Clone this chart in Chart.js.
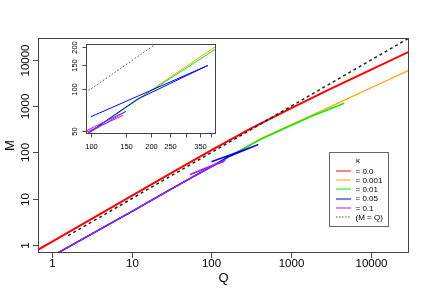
<!DOCTYPE html>
<html>
<head>
<meta charset="utf-8">
<script src="https://cdn.jsdelivr.net/npm/chart.js@4.4.1/dist/chart.umd.min.js"></script>
<style>
  html, body { margin: 0; padding: 0; background: #fff; }
  #wrap { position: relative; width: 432px; height: 300px; }
  #main { position: absolute; left: 0; top: 0; }
  #inset { position: absolute; left: 60px; top: 38px; }
</style>
</head>
<body>
<div id="wrap">
  <canvas id="main" width="432" height="300"></canvas>
  <canvas id="inset" width="165" height="120"></canvas>
</div>
<script>
// shared early part of every kappa > 0 run
const trunkQ = [1, 10, 30, 60, 95]
const trunkM = [0.57, 5.25, 15.5, 30.4, 47]

// kappa = 0
const redQ = [0.5, 1, 10, 30, 100, 300, 1000, 3000, 10000, 30000, 40000]
const redM = [0.59, 1.17, 11.6, 34.4, 112, 318, 912, 2300, 6170, 15100, 19000]

// tails after the trunk
const orangeQ = [200, 420, 720, 2000, 5000, 10000, 30000, 40000]
const orangeM = [98, 202, 310, 692, 1440, 2500, 6030, 7600]
const greenQ = [200, 420, 720, 2000, 4600]
const greenM = [97, 194, 298, 655, 1160]
const blueQ = [170, 385, 100]
const blueM = [84, 148, 63]
const purpleQ = [150, 54, 145]
const purpleM = [69, 33.5, 64.5]

// M = Q reference
const refQ = [1.6, 40000]

const kappas = ["0.0", "0.001", "0.01", "0.05", "0.1"]
const colors = ["#ff0000", "#ffa500", "#00ee00", "#0000ff", "#a020f0"]

const mainTicks = [1, 10, 100, 1000, 10000]
const insetXTicks = [100, 150, 200, 250, 300, 350, 400]
const insetXLabels = [100, 150, 200, 250, 350]
const insetYTicks = [50, 100, 150, 200]

const pts = (qs, ms) => qs.map((q, i) => ({ x: q, y: ms[i] }))
const withTrunk = (qs, ms) => pts(trunkQ.concat(qs), trunkM.concat(ms))

function line(data, color, width, dash) {
  return {
    data: data, showLine: true, borderColor: color, borderWidth: width,
    borderDash: dash || [], pointRadius: 0, fill: false, clip: 0
  }
}

function axesPlugin(o) {
  return {
    id: "axes",
    afterDraw(chart) {
      const { ctx, chartArea: a, scales: { x, y } } = chart
      ctx.save()
      ctx.strokeStyle = "#444"
      ctx.lineWidth = 1
      ctx.strokeRect(a.left + 0.5, a.top + 0.5, a.right - a.left - 1, a.bottom - a.top - 1)
      ctx.fillStyle = "#000"
      ctx.font = o.font
      ctx.textAlign = "center"
      ctx.textBaseline = "middle"
      o.xTicks.forEach(v => {
        const px = Math.round(x.getPixelForValue(v)) + 0.5
        ctx.beginPath(); ctx.moveTo(px, a.bottom); ctx.lineTo(px, a.bottom + o.tick); ctx.stroke()
        if (o.xLabels.includes(v)) ctx.fillText(String(v), px, a.bottom + o.xOff)
      })
      o.yTicks.forEach(v => {
        const py = Math.round(y.getPixelForValue(v)) + 0.5
        ctx.beginPath(); ctx.moveTo(a.left, py); ctx.lineTo(a.left - o.tick, py); ctx.stroke()
        ctx.save()
        ctx.translate(a.left - o.yOff, py)
        ctx.rotate(-Math.PI / 2)
        ctx.fillText(String(v), 0, 0)
        ctx.restore()
      })
      if (o.extra) o.extra(chart)
      ctx.restore()
    }
  }
}

function drawTitlesAndLegend(chart) {
  const { ctx, chartArea: a } = chart
  ctx.font = "13px 'Liberation Sans', Arial, sans-serif"
  ctx.fillText("Q", (a.left + a.right) / 2, 278.5)
  ctx.save()
  ctx.translate(10, (a.top + a.bottom) / 2)
  ctx.rotate(-Math.PI / 2)
  ctx.fillText("M", 0, 0)
  ctx.restore()

  // legend box
  ctx.strokeStyle = "#666"
  ctx.strokeRect(329.5, 152.5, 59, 74)
  ctx.font = "8px 'Liberation Sans', Arial, sans-serif"
  ctx.fillText("κ", 358, 161)
  ctx.textAlign = "left"
  const rows = kappas.map(k => "= " + k).concat(["(M = Q)"])
  rows.forEach((t, i) => {
    const yy = 171 + i * 9.2
    ctx.beginPath()
    ctx.setLineDash(i === 5 ? [1.5, 1.5] : [])
    ctx.strokeStyle = i === 5 ? "#555" : colors[i]
    ctx.lineWidth = 1
    ctx.moveTo(336, Math.round(yy)); ctx.lineTo(351, Math.round(yy)); ctx.stroke()
    ctx.fillText(t, 355.5, yy + 0.5)
  })
  ctx.setLineDash([])
}

const logScale = (min, max) => ({ type: "logarithmic", min: min, max: max, bounds: "data", display: false })

const mainSets = [
  line(pts(redQ, redM), colors[0], 2),
  line(withTrunk(orangeQ, orangeM), colors[1], 1.3),
  line(withTrunk(greenQ, greenM), colors[2], 1.5),
  line(withTrunk(blueQ, blueM), colors[3], 1.5),
  line(withTrunk(purpleQ, purpleM), colors[4], 1.5),
  line(pts(refQ, refQ), "#222", 1.5, [3, 3])
]
mainSets.forEach((d, i) => { d.order = mainSets.length - i })

new Chart(document.getElementById("main"), {
  type: "scatter",
  data: { datasets: mainSets },
  options: {
    responsive: false, animation: false, devicePixelRatio: 1,
    layout: { padding: { left: 38, top: 38, right: 23, bottom: 47 } },
    scales: { x: logScale(0.673, 29720), y: logScale(0.673, 29720) },
    plugins: { legend: { display: false }, tooltip: { enabled: false } }
  },
  plugins: [axesPlugin({
    font: "11.5px 'Liberation Sans', Arial, sans-serif",
    tick: 5, xOff: 11, yOff: 12,
    xTicks: mainTicks, xLabels: mainTicks, yTicks: mainTicks,
    extra: drawTitlesAndLegend
  })]
})

const insetSets = [
  line(withTrunk(orangeQ, orangeM), colors[1], 1),
  line(withTrunk(greenQ, greenM), colors[2], 1),
  line(withTrunk(blueQ, blueM), colors[3], 1),
  line(withTrunk(purpleQ, purpleM), colors[4], 1),
  line(pts(refQ, refQ), "#444", 1, [1.5, 2])
]
insetSets.forEach((d, i) => { d.order = insetSets.length - i })

new Chart(document.getElementById("inset"), {
  type: "scatter",
  data: { datasets: insetSets },
  options: {
    responsive: false, animation: false, devicePixelRatio: 1,
    layout: { padding: { left: 26, top: 6, right: 9, bottom: 24 } },
    scales: { x: logScale(94.6, 422.7), y: logScale(47.3, 211.4) },
    plugins: { legend: { display: false }, tooltip: { enabled: false } }
  },
  plugins: [axesPlugin({
    font: "7.5px 'Liberation Sans', Arial, sans-serif",
    tick: 3.5, xOff: 12.5, yOff: 11,
    xTicks: insetXTicks, xLabels: insetXLabels, yTicks: insetYTicks
  })]
})
</script>
</body>
</html>
